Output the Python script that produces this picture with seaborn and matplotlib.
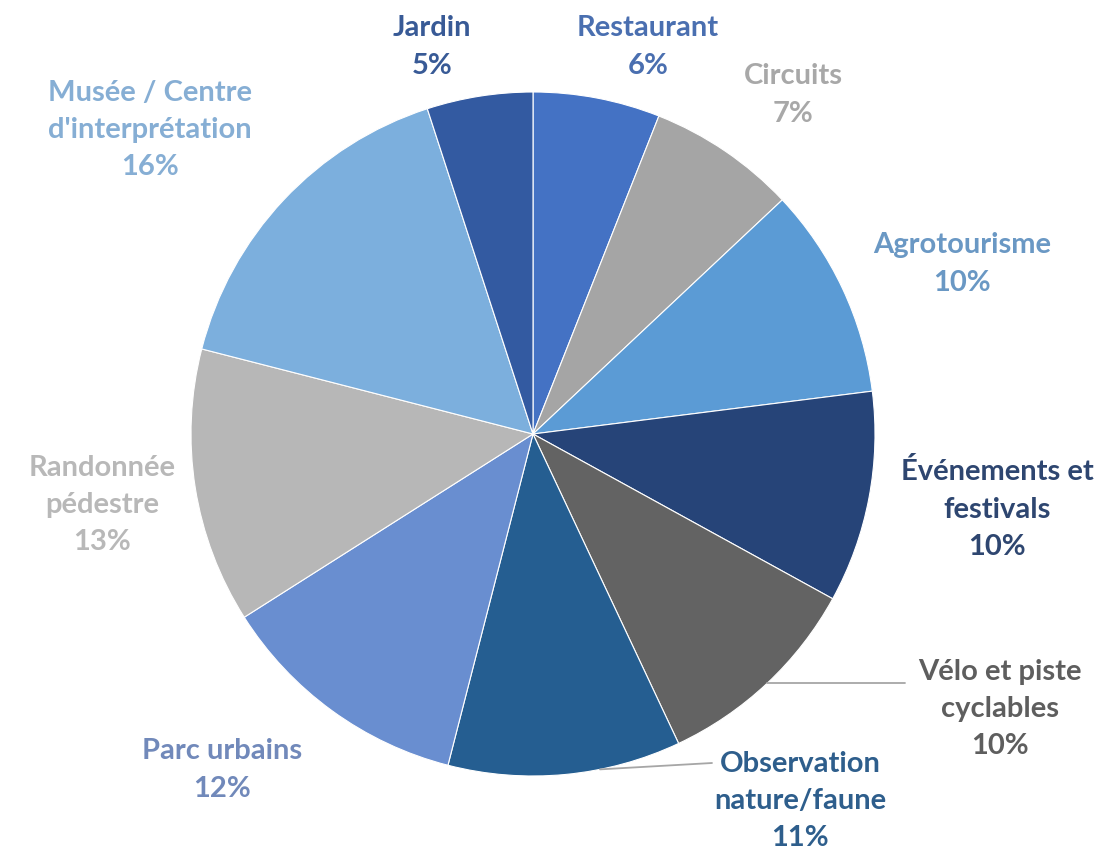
import matplotlib
matplotlib.use("Agg")
import matplotlib.pyplot as plt
import seaborn as sns
import numpy as np

sns.set_theme(style="white")
plt.rcParams['font.family'] = ['Lato', 'DejaVu Sans']

# Activity categories, clockwise from 12 o'clock
categories = [
    "Restaurant", "Circuits", "Agrotourisme", "Événements et\nfestivals",
    "Vélo et piste\ncyclables", "Observation\nnature/faune", "Parc urbains",
    "Randonnée\npédestre", "Musée / Centre\nd'interprétation", "Jardin",
]
shares = [6, 7, 10, 10, 10, 11, 12, 13, 16, 5]
colors = [
    "#4472C4", "#A5A5A5", "#5B9BD5", "#264478", "#636363",
    "#255E91", "#698ED0", "#B7B7B7", "#7CAFDD", "#335AA1",
]
label_colors = [
    "#4A6FB0", "#A8A8A8", "#6A98C4", "#2E4670", "#5E5E5E",
    "#2E5E8C", "#7189BA", "#B8B8B8", "#86AED4", "#385A96",
]

# Label anchor positions (pixels from top-left of the canvas)
label_pos = [
    (648, 47), (793, 95), (962, 264), (997, 509), (1000, 709),
    (800, 801), (222, 770), (102, 505), (150, 130), (432, 47),
]

W, H = 1105, 852
cx, cy, R = 533, 434, 342

fig = plt.figure(figsize=(W / 100, H / 100), dpi=100)
ax = fig.add_axes([(cx - R) / W, (H - cy - R) / H, 2 * R / W, 2 * R / H])
ax.pie(
    shares, colors=colors, startangle=90, counterclock=False,
    wedgeprops=dict(edgecolor="white", linewidth=0.8),
)
ax.set_xlim(-1, 1)
ax.set_ylim(-1, 1)
ax.set_aspect("equal")
ax.axis("off")


def to_data(px, py):
    return (px - cx) / R, (cy - py) / R


for name, val, col, (px, py) in zip(categories, shares, label_colors, label_pos):
    x, y = to_data(px, py)
    ax.text(x, y, f"{name}\n{val}%", color=col, ha="center", va="center",
            fontsize=21, fontweight="bold", linespacing=1.53,
            multialignment="center", clip_on=False)

# Leader lines for the two labels set apart from their slices
cum = np.cumsum([0] + shares[:-1])
velo_mid = np.deg2rad((cum[4] + shares[4] / 2) / 100 * 360)
x0, y0 = np.sin(velo_mid), np.cos(velo_mid)
x1, _ = to_data(905, 0)
ax.plot([x0, x1], [y0, y0], color="#A6A6A6", lw=1.3, clip_on=False)

ox, oy = to_data(600, 0)
oy = -np.sqrt(1 - ox ** 2)
x2, y2 = to_data(712, 763)
ax.plot([ox, x2], [oy, y2], color="#A6A6A6", lw=1.3, clip_on=False)

fig.savefig("out.png", dpi=100, facecolor="white")
